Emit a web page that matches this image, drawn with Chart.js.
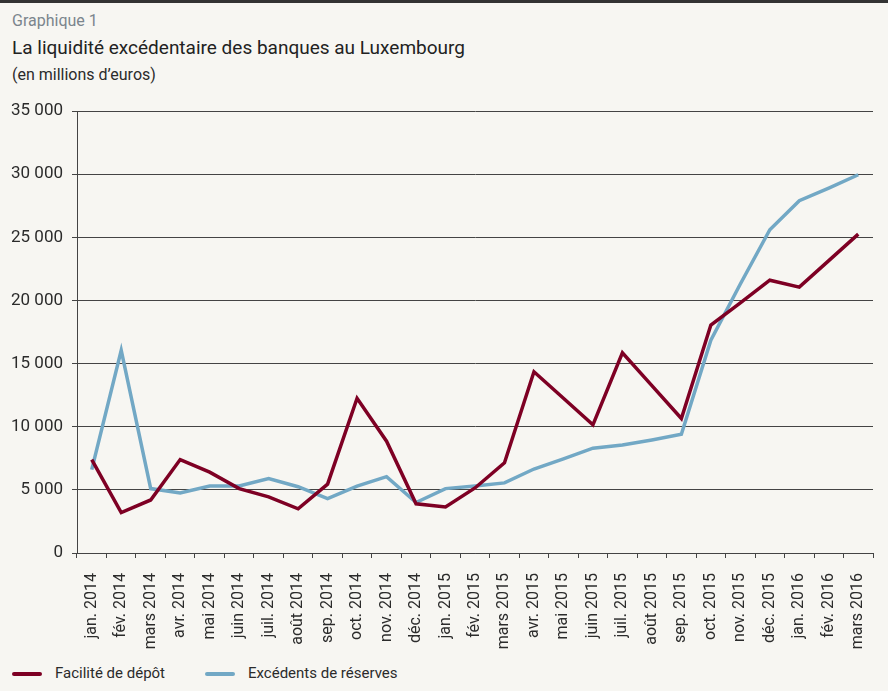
<!DOCTYPE html>
<html>
<head>
<meta charset="utf-8">
<script src="https://cdn.jsdelivr.net/npm/chart.js@4.4.1/dist/chart.umd.min.js"></script>
<style>
  html, body { margin: 0; padding: 0; }
  body {
    width: 888px; height: 691px; overflow: hidden;
    background: #f7f6f2; font-family: Roboto, "DejaVu Sans", sans-serif; color: #2b2b2b;
    border-top: 3px solid #333; box-sizing: border-box; position: relative;
  }
  #kicker { position: absolute; left: 12px; top: 8px; font-size: 16px; color: #7b858d; }
  #title { position: absolute; left: 12px; top: 33px; font-size: 19px; color: #222; }
  #unit { position: absolute; left: 12px; top: 62px; font-size: 16px; }
  #wrap { position: absolute; left: 0; top: 90px; width: 888px; height: 565px; }
  #legend { position: absolute; left: 12px; top: 661px; font-size: 15px; }
  .item { display: inline-block; margin-right: 40px; }
  .swatch { display: inline-block; width: 30px; height: 4px; border-radius: 2px; vertical-align: middle; margin-right: 13px; }
</style>
</head>
<body>
<div id="kicker">Graphique 1</div>
<div id="title">La liquidité excédentaire des banques au Luxembourg</div>
<div id="unit">(en millions d’euros)</div>
<div id="wrap"><canvas id="chart"></canvas></div>
<div id="legend"></div>
<script>
const months = ['jan. 2014','fév. 2014','mars 2014','avr. 2014','mai 2014','juin 2014','juil. 2014','août 2014','sep. 2014','oct. 2014','nov. 2014','déc. 2014',
  'jan. 2015','fév. 2015','mars 2015','avr. 2015','mai 2015','juin 2015','juil. 2015','août 2015','sep. 2015','oct. 2015','nov. 2015','déc. 2015',
  'jan. 2016','fév. 2016','mars 2016'];
const facilite = [7400,3200,4200,7400,6400,5100,4450,3500,5450,12250,8850,3900,
  3650,5150,7150,14350,12250,10150,15850,13250,10650,18050,19800,21600,21050,23150,25250];
const excedents = [6600,16050,5100,4750,5300,5300,5900,5250,4300,5300,6050,4000,
  5100,5300,5550,6650,7450,8300,8550,8950,9400,16850,21300,25600,27900,28900,29950];
const yTicks = [0,5000,10000,15000,20000,25000,30000,35000];

const series = [
  { label: 'Facilité de dépôt', data: facilite, color: '#7e0024' },
  { label: 'Excédents de réserves', data: excedents, color: '#72a8c5' }
];

const fmt = v => String(v).replace(/\B(?=(\d{3})+(?!\d))/g, ' ');

const ctx = document.getElementById('chart');
new Chart(ctx, {
  type: 'line',
  data: {
    labels: months,
    datasets: series.map(s => ({
      label: s.label,
      data: s.data,
      borderColor: s.color,
      backgroundColor: s.color,
      borderWidth: 3.5,
      pointRadius: 0,
      tension: 0,
      borderJoinStyle: 'miter'
    }))
  },
  options: {
    responsive: true,
    maintainAspectRatio: false,
    animation: false,
    layout: { padding: { left: 0, right: 15, top: 18, bottom: 0 } },
    plugins: { legend: { display: false }, tooltip: { enabled: false } },
    scales: {
      x: {
        offset: true,
        grid: { display: true, drawOnChartArea: false, color: '#444', tickLength: 5, offset: true },
        border: { color: '#444', width: 1 },
        ticks: {
          color: '#2b2b2b', font: { family: 'Roboto', size: 16 },
          minRotation: 90, maxRotation: 90, autoSkip: false, padding: 15
        },
        afterFit: s => { s.height = 105; s.paddingLeft = 0; s.paddingRight = 0; }
      },
      y: {
        min: 0, max: 35000,
        afterBuildTicks: s => { s.ticks = yTicks.map(v => ({ value: v })); },
        grid: { color: '#444', tickLength: 5 },
        border: { color: '#444', width: 1 },
        ticks: {
          color: '#2b2b2b', font: { family: 'Roboto', size: 17 }, padding: 9,
          callback: v => fmt(v)
        },
        afterFit: s => { s.width = 77; s.paddingTop = 0; s.paddingBottom = 0; }
      }
    }
  }
});

const legend = document.getElementById('legend');
series.forEach(s => {
  const it = document.createElement('span');
  it.className = 'item';
  it.innerHTML = '<span class="swatch" style="background:' + s.color + '"></span>' + s.label;
  legend.appendChild(it);
});
</script>
</body>
</html>
